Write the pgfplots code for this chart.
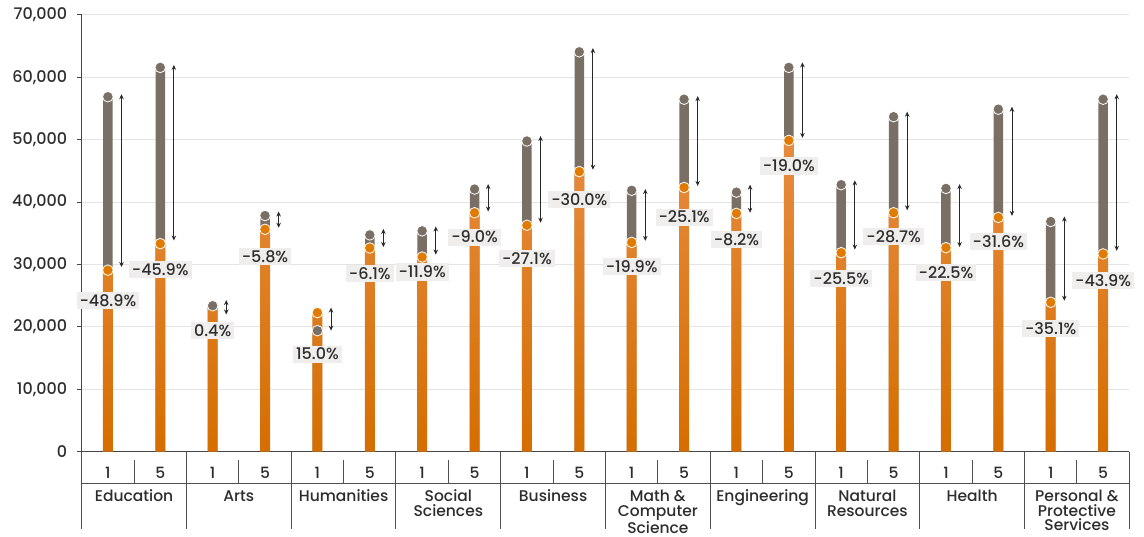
\documentclass[border=0pt]{standalone}
\usepackage{fontspec}
\setmainfont{Poppins Medium}
\usepackage{pgfplots}
\pgfplotsset{compat=1.18}
\usepackage{pgfplotstable}
\usetikzlibrary{arrows.meta}

\definecolor{graycol}{RGB}{122,111,101}
\definecolor{odot}{RGB}{224,123,0}
\definecolor{otop}{RGB}{231,140,64}
\definecolor{obot}{RGB}{213,110,0}
\definecolor{gridcol}{RGB}{228,228,228}
\definecolor{axiscol}{RGB}{70,70,70}
\definecolor{sepcol}{RGB}{80,80,80}
\definecolor{labbg}{RGB}{239,238,236}
\definecolor{labcol}{RGB}{45,45,45}
\definecolor{arrcol}{RGB}{40,40,40}

\pgfplotstableread{
x gray orange labely atop dv label
0.25 56900 29100 24200 57300 -27700 -48.9
0.75 61600 33350 29200 62000 -28150 -45.9
1.25 23400 23500 19400 24300 -2300 0.4
1.75 37850 35650 31300 38500 -2600 -5.8
2.25 19400 22300 15650 23100 -3700 15.0
2.75 34750 32650 28600 35700 -2900 -6.1
3.25 35400 31200 28800 36100 -4500 -11.9
3.75 42100 38300 34400 42900 -4400 -9.0
4.25 49800 36300 30900 50600 -13900 -27.1
4.75 64100 44900 40400 64700 -19500 -30.0
5.25 41900 33550 29700 42100 -8300 -19.9
5.75 56500 42350 37600 57000 -14400 -25.1
6.25 41600 38200 34000 42800 -4500 -8.2
6.75 61600 49900 45800 62400 -12100 -19.0
7.25 42800 31900 27700 43500 -11100 -25.5
7.75 53700 38300 34500 54500 -15800 -28.7
8.25 42200 32700 28700 42900 -10100 -22.5
8.75 54900 37550 33700 55300 -17500 -31.6
9.25 36900 23950 19800 37700 -13500 -35.1
9.75 56500 31700 27400 57300 -25100 -43.9
}\data

\begin{document}
\begin{tikzpicture}
\path[use as bounding box] (-81.7pt,-85.3pt) rectangle (1062.3pt,451.7pt);
\begin{axis}[
  at={(0,0)}, anchor=south west,
  scale only axis, width=1047.6pt, height=436.7pt,
  xmin=0, xmax=10, ymin=0, ymax=70000,
  axis x line*=bottom, axis y line*=left,
  axis line style={axiscol, line width=1pt},
  ytick={0,10000,...,70000},
  ymajorgrids, grid style={gridcol, line width=1pt},
  scaled y ticks=false,
  /pgf/number format/1000 sep={,},
  /pgf/number format/assume math mode=true,
  yticklabel style={font=\fontsize{16}{18}\selectfont, text=labcol, xshift=-6pt},
  tick align=outside, major tick length=5pt,
  ytick style={axiscol, line width=1pt},
  xtick={0.25,0.75,...,9.75},
  xticklabels={1,5,1,5,1,5,1,5,1,5,1,5,1,5,1,5,1,5,1,5},
  xtick style={draw=none},
  xticklabel style={anchor=base, yshift=-21.5pt, font=\fontsize{15.5}{17}\selectfont, text=labcol},
  clip=false,
]
% gray segments (full bar from 0, covered by orange below)
\addplot[ybar, bar width=9.5pt, bar shift=0pt, fill=graycol, draw=none] table[x=x, y=gray] {\data};
% orange bars
\addplot[ybar, bar width=10pt, bar shift=0pt, draw=none, top color=otop, bottom color=obot] table[x=x, y=orange] {\data};
% arrows
\addplot[arrcol, line width=0.9pt, {Stealth[length=5pt,width=4.5pt]}-{Stealth[length=5pt,width=4.5pt]},
  quiver={u=0, v=\thisrow{dv}}] table[x expr=\thisrow{x}+0.13, y=atop] {\data};
% dots
\addplot[only marks, mark=*, mark size=5.3pt, mark options={fill=odot, draw=white, line width=0.8pt}] table[x=x, y=orange] {\data};
\addplot[only marks, mark=*, mark size=5.3pt, mark options={fill=graycol, draw=white, line width=0.8pt}] table[x=x, y=gray] {\data};
% percentage labels
\addplot[only marks, mark=none, point meta=explicit symbolic,
  nodes near coords={\pgfplotspointmeta\%}, nodes near coords align={center},
  every node near coord/.style={anchor=center, fill=labbg, inner xsep=3pt, inner ysep=2.5pt,
    font=\fontsize{16}{18}\selectfont, text=labcol}]
  table[x=x, y=labely, meta=label] {\data};
% category framework
\pgfplotsinvokeforeach{0,1,...,10}{\draw[sepcol, line width=1pt] (axis cs:#1,0) -- ++(0,-77.5pt);}
\pgfplotsinvokeforeach{0.5,1.5,...,9.5}{\draw[sepcol, line width=1pt] (axis cs:#1,0) ++(0,-8.3pt) -- ++(0,-23.3pt);}
\draw[sepcol, line width=1pt] ([yshift=-31.6pt]axis cs:0,0) -- ([yshift=-31.6pt]axis cs:10,0);
\tikzset{cat/.style={anchor=north, align=center, font=\fontsize{15.5}{14.5}\selectfont, text=labcol, inner sep=0pt}}
\newcommand\cs{\rule{0pt}{12pt}}
\node[cat] at ([yshift=-38pt]axis cs:0.5,0) {\cs Education};
\node[cat] at ([yshift=-38pt]axis cs:1.5,0) {\cs Arts};
\node[cat] at ([yshift=-38pt]axis cs:2.5,0) {\cs Humanities};
\node[cat] at ([yshift=-38pt]axis cs:3.5,0) {\cs Social\\Sciences};
\node[cat] at ([yshift=-38pt]axis cs:4.5,0) {\cs Business};
\node[cat] at ([yshift=-38pt]axis cs:5.5,0) {\cs Math \&\\Computer\\Science};
\node[cat] at ([yshift=-38pt]axis cs:6.5,0) {\cs Engineering};
\node[cat] at ([yshift=-38pt]axis cs:7.5,0) {\cs Natural\\Resources};
\node[cat] at ([yshift=-38pt]axis cs:8.5,0) {\cs Health};
\node[cat] at ([yshift=-38pt]axis cs:9.5,0) {\cs Personal \&\\Protective\\Services};
\end{axis}
\end{tikzpicture}
\end{document}
